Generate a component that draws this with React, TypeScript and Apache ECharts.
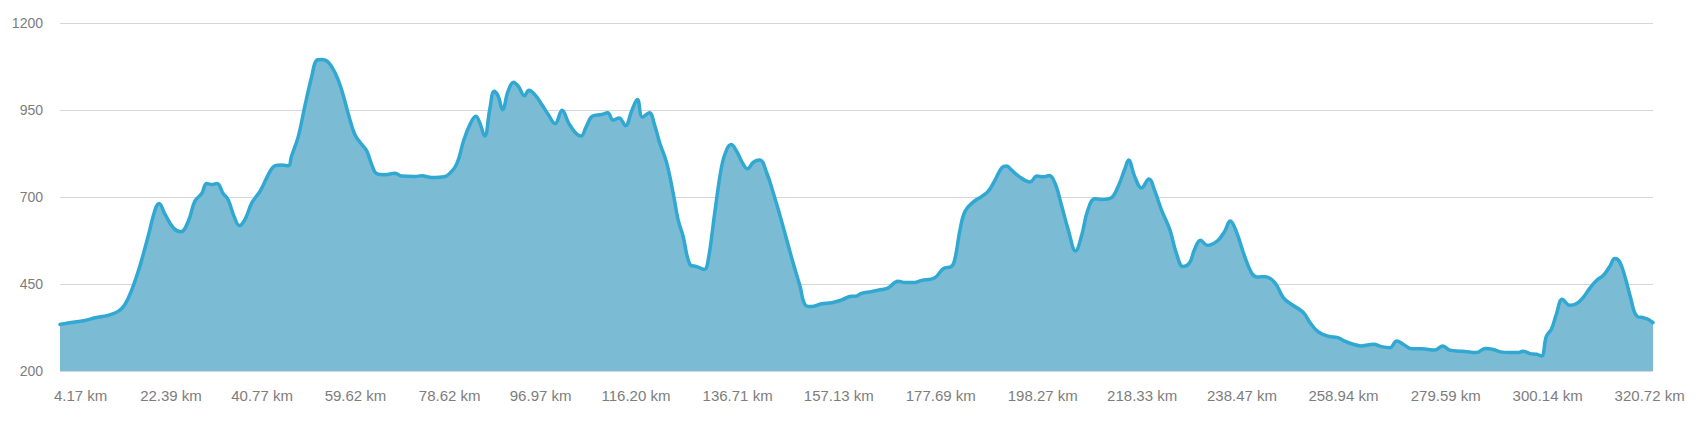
import React, { useEffect, useRef } from "react";
import * as echarts from "echarts";

const distanceKm: number[] = [
  0, 3.0, 5.0, 7.1, 9.7, 11.8, 13.1, 14.5, 16.1, 17.8, 19.2, 20.0, 21.2, 22.9, 24.4, 25.9, 27.2, 28.6, 29.6, 30.6,
  31.7, 32.9, 33.9, 35.1, 36.2, 37.3, 38.7, 40.3, 40.9, 42.4, 43.4, 44.7, 46.1, 46.7, 48.1, 49.4, 50.8, 51.8, 52.8, 54.1,
  55.5, 56.8, 58.2, 59.5, 60.9, 61.9, 62.9, 63.9, 65.6, 67.6, 68.9, 71.6, 73.0, 75.0, 77.7, 78.7, 79.7, 80.4, 81.4, 82.7,
  83.9, 84.7, 85.7, 86.7, 87.6, 88.4, 89.3, 90.4, 91.5, 92.5, 93.7, 94.6, 95.8, 97.2, 98.5, 99.9, 101.3, 102.6, 103.9, 105.1,
  106.2, 107.4, 109.3, 110.5, 111.6, 112.8, 114.1, 115.3, 116.5, 117.5, 118.9, 120.0, 121.0, 122.4, 123.7, 124.7, 125.7, 127.1, 128.4, 130.0,
  130.8, 132.1, 133.5, 134.5, 135.4, 136.5, 137.7, 138.7, 139.9, 141.2, 142.6, 143.9, 145.3, 146.6, 147.9, 149.3, 150.3, 151.6, 153.7, 155.7,
  157.7, 159.7, 160.5, 161.7, 163.7, 165.8, 167.1, 169.1, 170.5, 172.1, 173.8, 176.5, 178.2, 179.9, 180.6, 181.6, 182.6, 184.3, 186.0, 187.3,
  188.7, 190.0, 191.0, 192.0, 193.4, 195.7, 197.1, 198.4, 199.6, 200.8, 202.1, 203.4, 204.9, 206.1, 207.4, 208.8, 210.1, 212.1, 213.5, 214.8,
  215.6, 216.8, 218.2, 219.7, 220.9, 222.2, 223.9, 225.2, 226.6, 227.9, 228.9, 230.1, 231.5, 233.6, 235.0, 236.1, 237.3, 239.0, 240.4, 241.5,
  243.2, 245.1, 246.8, 248.5, 250.8, 252.2, 253.9, 255.9, 257.8, 259.2, 260.9, 262.6, 265.0, 266.6, 268.3, 269.7, 271.0, 272.7, 274.7, 277.4,
  278.9, 280.4, 282.4, 283.4, 285.8, 287.5, 289.2, 290.6, 292.6, 294.2, 295.2, 296.6, 297.9, 298.9, 299.9, 300.9, 301.9, 303.1, 304.6, 306.0,
  307.3, 308.7, 310.0, 311.4, 312.7, 313.7, 314.7, 315.8, 316.8, 318.1, 319.5, 320.5, 321.4,
];

const elevationM: number[] = [
  334, 341, 345, 353, 360, 372, 391, 434, 501, 588, 664, 681, 650, 611, 600, 631, 688, 710, 739, 736,
  739, 710, 693, 645, 618, 635, 683, 715, 731, 774, 790, 792, 790, 817, 875, 961, 1047, 1093, 1095, 1088,
  1057, 1009, 937, 879, 851, 832, 793, 767, 764, 768, 760, 759, 761, 756, 759, 769, 786, 808, 860, 908,
  932, 913, 875, 951, 1004, 990, 951, 1004, 1030, 1018, 991, 1007, 994, 966, 937, 911, 949, 913, 886, 875,
  903, 932, 937, 942, 921, 927, 905, 946, 980, 930, 942, 905, 855, 798, 712, 635, 588, 506, 500, 492,
  521, 655, 789, 836, 851, 832, 798, 781, 800, 806, 769, 712, 645, 578, 511, 444, 391, 385, 393, 396,
  404, 415, 415, 423, 428, 434, 439, 458, 454, 454, 460, 468, 494, 501, 525, 607, 659, 686, 702, 717,
  750, 784, 789, 777, 760, 743, 760, 758, 762, 738, 674, 607, 545, 588, 664, 695, 693, 698, 731, 779,
  806, 760, 726, 752, 717, 664, 607, 540, 500, 511, 549, 576, 561, 575, 602, 631, 602, 530, 482, 470,
  471, 454, 411, 391, 369, 339, 312, 300, 296, 286, 277, 272, 277, 270, 267, 286, 277, 264, 264, 260,
  272, 260, 257, 256, 253, 265, 262, 255, 253, 253, 257, 250, 248, 243, 300, 320, 363, 406, 389, 394,
  411, 439, 460, 475, 501, 523, 513, 468, 415, 358, 353, 348, 339,
];

const xTickKm: number[] = [
  4.17, 22.39, 40.77, 59.62, 78.62, 96.97, 116.2, 136.71, 157.13, 177.69, 198.27, 218.33, 238.47, 258.94, 279.59, 300.14, 320.72,
];

const yTicks: number[] = [200, 450, 700, 950, 1200];

export default function App() {
  const ref = useRef<HTMLDivElement>(null);
  useEffect(() => {
    if (!ref.current) return;
    const chart = echarts.init(ref.current, undefined, { renderer: "svg" });
    const data = distanceKm.map((d, i) => [d, elevationM[i]]);
    chart.setOption({
      animation: false,
      backgroundColor: "#ffffff",
      grid: { left: 60, right: 47, top: 23, bottom: 51, containLabel: false },
      xAxis: {
        type: "value",
        min: 0,
        max: 321.4,
        axisLine: { show: false },
        axisTick: { show: false },
        splitLine: { show: false },
        axisLabel: {
          customValues: xTickKm,
          formatter: (v: number) => v.toFixed(2) + " km",
          color: "#7d7d7d",
          fontSize: 15,
          fontFamily: "'Liberation Sans', Arial, sans-serif",
          margin: 17,
          showMinLabel: true,
          showMaxLabel: true,
        },
      },
      yAxis: {
        type: "value",
        min: yTicks[0],
        max: yTicks[yTicks.length - 1],
        interval: 250,
        axisLine: { show: false },
        axisTick: { show: false },
        splitLine: { show: true, lineStyle: { color: "#d6d6d6", width: 1 } },
        axisLabel: {
          formatter: (v: number) => String(v),
          color: "#7d7d7d",
          fontSize: 14,
          fontFamily: "'Liberation Sans', Arial, sans-serif",
          margin: 17,
        },
      },
      series: [
        {
          type: "line",
          data,
          smooth: 0.4,
          showSymbol: false,
          symbol: "none",
          lineStyle: { color: "#30a8d2", width: 3.5, join: "round", cap: "round" },
          areaStyle: { color: "#7cbbd4", opacity: 1 },
        },
      ],
    });
    return () => chart.dispose();
  }, []);
  return (
    <div
      ref={ref}
      style={{ position: "fixed", left: 0, top: 0, width: 1700, height: 422 }}
    />
  );
}
